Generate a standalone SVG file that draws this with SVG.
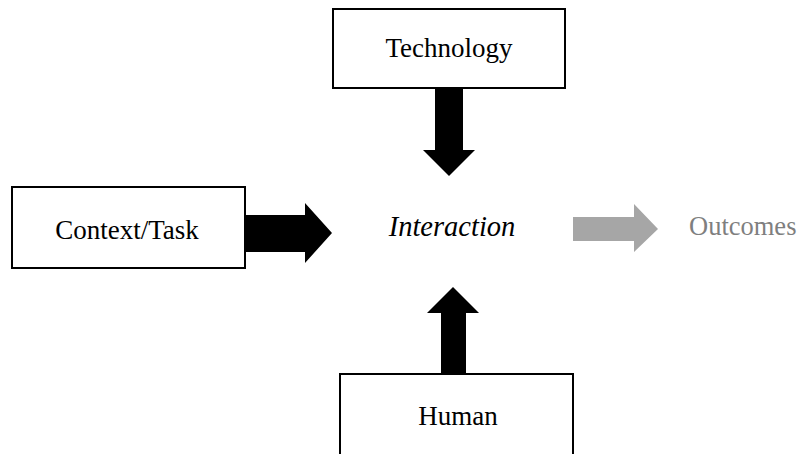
<svg xmlns="http://www.w3.org/2000/svg" width="801" height="454" viewBox="0 0 801 454">
<style>
.box{fill:#fff;stroke:#000;stroke-width:2}
.lbl{font-family:"Liberation Serif","Times New Roman",serif;font-size:27px;fill:#000;text-anchor:middle}
.arr{fill:#000}
</style>
<rect width="801" height="454" fill="#fff"/>
<g id="technology"><rect class="box" x="333" y="9" width="232" height="79"/><text class="lbl" x="449" y="57">Technology</text></g>
<g id="context"><rect class="box" x="12" y="187" width="233" height="81"/><text class="lbl" x="127" y="239">Context/Task</text></g>
<g id="human"><rect class="box" x="340" y="374" width="233" height="90"/><text class="lbl" x="458" y="425">Human</text></g>
<g id="interaction"><text x="452" y="236" font-family="'Liberation Serif','Times New Roman',serif" font-style="italic" font-size="28.5" text-anchor="middle">Interaction</text></g>
<g id="outcomes"><text x="689" y="235" font-family="'Liberation Serif','Times New Roman',serif" font-size="26.5" fill="#7f7f7f">Outcomes</text></g>
<g id="connectors">
<polygon class="arr" points="435,88 463,88 463,150 475,150 449,176 423,150 435,150"/>
<polygon class="arr" points="245,215 305,215 305,203 332,233 305,263 305,252 245,252"/>
<polygon class="arr" points="441,374 466,374 466,313 479,313 453,287 427,313 441,313"/>
<polygon fill="#a6a6a6" points="573,217 634,217 634,204 658,229 634,252 634,241 573,241"/>
</g>
</svg>
